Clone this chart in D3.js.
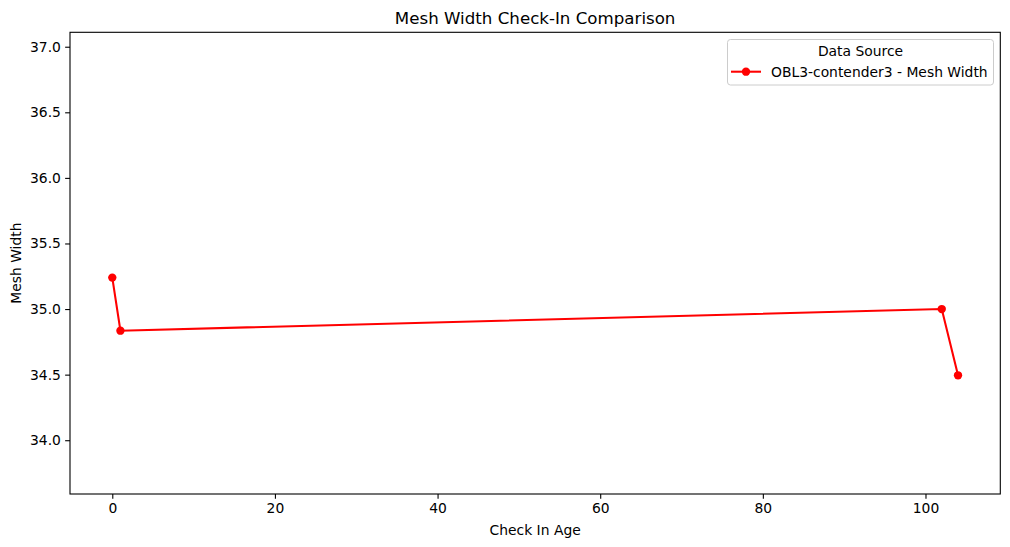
<!DOCTYPE html>
<html><head><meta charset="utf-8">
<script src="https://cdn.jsdelivr.net/npm/d3@7"></script>
<style>body{margin:0;background:#fff}svg{display:block;font-family:"DejaVu Sans",sans-serif}</style>
</head><body>
<svg id="c" width="1010" height="547"></svg>
<script>
const ages = [0, 1, 102, 104];
const meshWidth = [35.24, 34.835, 35.0, 34.495];
const xTicks = [0, 20, 40, 60, 80, 100];
const yTicks = [34.0, 34.5, 35.0, 35.5, 36.0, 36.5, 37.0];
const seriesName = "OBL3-contender3 - Mesh Width";

const FS = 13.89, TFS = 16.67;
const svg = d3.select("#c");
const L = 70, R = 1000.3, T = 32.3, B = 494;
const x = d3.scaleLinear().domain([-5.2, 109.2]).range([L, R]);
const y = d3.scaleLinear().domain([33.59, 37.11]).range([B, T]);

const xa = svg.append("g").attr("transform", `translate(0,${B})`)
  .call(d3.axisBottom(x).tickValues(xTicks).tickSize(4.86).tickPadding(4.2).tickFormat(d3.format("d")));
const ya = svg.append("g").attr("transform", `translate(${L},0)`)
  .call(d3.axisLeft(y).tickValues(yTicks).tickSize(4.86).tickPadding(4.2).tickFormat(d3.format(".1f")));
[xa, ya].forEach(a => {
  a.select(".domain").remove();
  a.selectAll("text").attr("font-size", FS).attr("fill", "#000").attr("font-family", "DejaVu Sans");
  a.selectAll("line").attr("stroke", "#000").attr("stroke-width", 1.1);
});

svg.append("rect").attr("x", L).attr("y", T).attr("width", R - L).attr("height", B - T)
  .attr("fill", "none").attr("stroke", "#000").attr("stroke-width", 1.1);

const data = ages.map((a, i) => ({a, v: meshWidth[i]}));
svg.append("path").datum(data)
  .attr("d", d3.line().x(d => x(d.a)).y(d => y(d.v)))
  .attr("fill", "none").attr("stroke", "#ff0000").attr("stroke-width", 2.08);
svg.selectAll("circle.pt").data(data).join("circle").attr("class", "pt")
  .attr("cx", d => x(d.a)).attr("cy", d => y(d.v)).attr("r", 4.17).attr("fill", "#ff0000");

svg.append("text").attr("x", (L + R) / 2).attr("y", 24).attr("text-anchor", "middle")
  .attr("font-size", TFS).text("Mesh Width Check-In Comparison");
svg.append("text").attr("x", (L + R) / 2).attr("y", 535).attr("text-anchor", "middle")
  .attr("font-size", FS).text("Check In Age");
svg.append("text").attr("transform", `translate(21,${(T + B) / 2}) rotate(-90)`).attr("text-anchor", "middle")
  .attr("font-size", FS).text("Mesh Width");

const lg = svg.append("g");
lg.append("rect").attr("x", 727.5).attr("y", 39.5).attr("width", 266).attr("height", 45.5).attr("rx", 3)
  .attr("fill", "#fff").attr("fill-opacity", 0.8).attr("stroke", "#cccccc").attr("stroke-width", 1);
lg.append("text").attr("x", 860.5).attr("y", 56).attr("text-anchor", "middle").attr("font-size", FS).text("Data Source");
lg.append("line").attr("x1", 731).attr("x2", 761).attr("y1", 71.7).attr("y2", 71.7).attr("stroke", "#ff0000").attr("stroke-width", 2.08);
lg.append("circle").attr("cx", 746).attr("cy", 71.7).attr("r", 4.17).attr("fill", "#ff0000");
lg.append("text").attr("x", 771).attr("y", 76.5).attr("font-size", FS).text(seriesName);
</script>
</body></html>
